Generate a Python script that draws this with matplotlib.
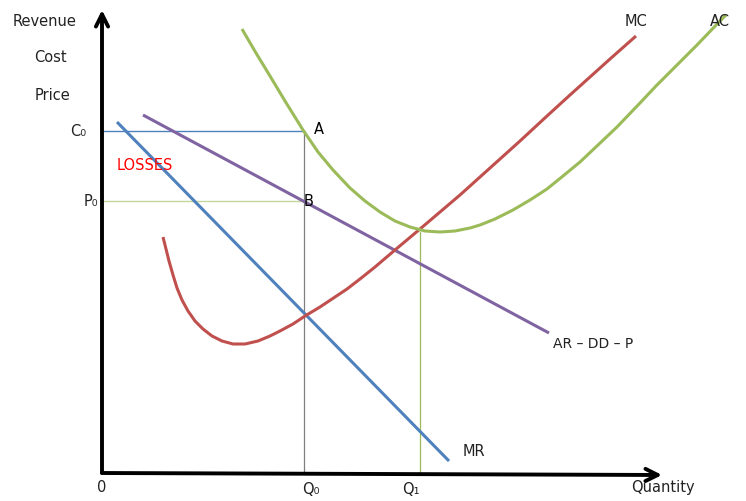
import matplotlib.pyplot as plt

plt.rcParams['font.family'] = ['DejaVu Sans']

# data (quantity, price) in chart units, origin at the axes corner
mc_q = [61, 64, 67, 71, 75, 80, 86, 93, 101, 110, 120, 131, 143, 156, 168, 178, 191, 203,
        218, 233, 245, 258, 273, 293, 318, 338, 358, 378, 398, 418, 445, 468, 488, 508, 534]
mc_p = [236, 224, 212, 198, 185, 173, 162, 152, 144, 137, 132, 129, 129, 132, 137, 142, 149, 157,
        166, 176, 184, 194, 206, 223, 244, 261, 278, 296, 314, 332, 357, 378, 396, 414, 437]

ac_q = [140, 154, 168, 183, 201, 216, 231, 248, 263, 278, 293, 308, 323, 338, 353, 368, 378,
        393, 411, 428, 445, 461, 478, 496, 515, 538, 554, 571, 595, 618, 624]
ac_p = [444, 420, 397, 372, 343, 321, 303, 285, 272, 261, 252, 246, 242, 241, 242, 245, 248,
        254, 263, 273, 284, 297, 311, 328, 346, 370, 387, 404, 428, 452, 458]

ar_q = [41, 447]
ar_p = [358, 140]

mr_q = [15, 347]
mr_p = [351, 12]

c0, p0 = 342, 272
q0, q1 = 202, 318

fig = plt.figure(figsize=(7.46, 5.02), dpi=100)
ax = fig.add_axes([0, 0, 1, 1])
ax.set_xlim(-102, 644)
ax.set_ylim(-28, 474)
ax.axis('off')

# guide lines
ax.plot([0, q0], [c0, c0], color='#4f81bd', lw=1)
ax.plot([0, q0], [p0, p0], color='#c3d69b', lw=1)
ax.plot([q0, q0], [0, c0], color='#7f7f7f', lw=0.9)
ax.plot([q1, q1], [0, 241], color='#9bbb59', lw=0.9)

# curves
ax.plot(mr_q, mr_p, color='#4f81bd', lw=2.2, solid_capstyle='butt')
ax.plot(ar_q, ar_p, color='#8064a2', lw=2.2, solid_capstyle='butt')
ax.plot(mc_q, mc_p, color='#c0504d', lw=2.2, solid_capstyle='butt', solid_joinstyle='round')
ax.plot(ac_q, ac_p, color='#9bbb59', lw=2.2, solid_capstyle='butt', solid_joinstyle='round')

# axes with arrows
ax.annotate('', xy=(0, 463), xytext=(0, 0),
            arrowprops=dict(arrowstyle='->', lw=2.8, color='black', mutation_scale=22,
                            shrinkA=0, shrinkB=0))
ax.annotate('', xy=(560, -2), xytext=(0, 0),
            arrowprops=dict(arrowstyle='->', lw=2.8, color='black', mutation_scale=22,
                            shrinkA=0, shrinkB=0))

# labels
txt = dict(fontsize=10.5, color='#222222')
ax.text(-57, 452, 'Revenue', ha='center', va='center', **txt)
ax.text(-52, 416, 'Cost', ha='center', va='center', **txt)
ax.text(-50, 379, 'Price', ha='center', va='center', **txt)
ax.text(-16, c0 + 1, 'C₀', ha='right', va='center', **txt)
ax.text(-4, p0, 'P₀', ha='right', va='center', **txt)
ax.text(0, -14, '0', ha='center', va='center', **txt)
ax.text(q0 + 7, -16, 'Q₀', ha='center', va='center', **txt)
ax.text(q1 - 9, -16, 'Q₁', ha='center', va='center', **txt)
ax.text(561, -14, 'Quantity', ha='center', va='center', **txt)
ax.text(q0 + 10, c0 + 2, 'A', ha='left', va='center', fontsize=10.5, color='black')
ax.text(q0, p0, 'B', ha='left', va='center', fontsize=10.5, color='black')
ax.text(15, 309, 'LOSSES', ha='left', va='center', fontsize=10.5, color='#ff0000')
ax.text(361, 22, 'MR', ha='left', va='center', **txt)
ax.text(451, 130, 'AR – DD – P', ha='left', va='center', fontsize=10, color='#222222')
ax.text(534, 452, 'MC', ha='center', va='center', **txt)
ax.text(618, 452, 'AC', ha='center', va='center', **txt)

fig.savefig('out.png', dpi=100)
